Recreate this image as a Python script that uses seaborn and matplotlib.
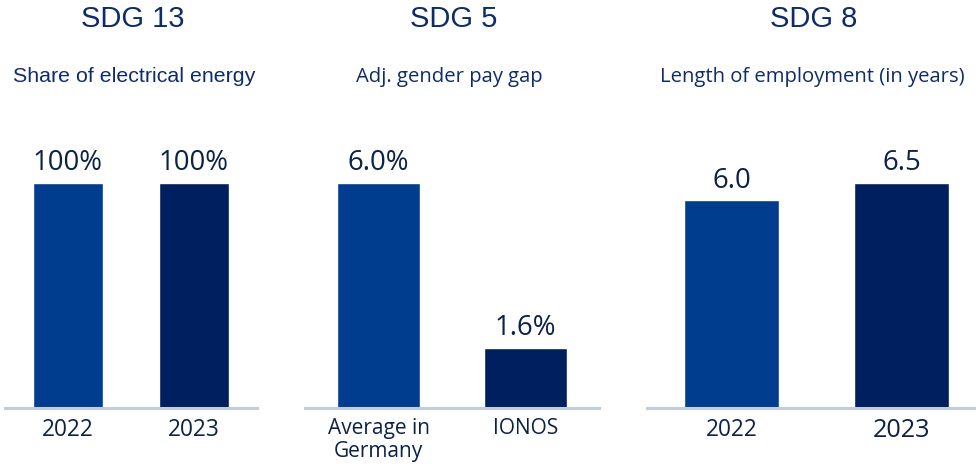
import matplotlib
matplotlib.use("Agg")
import matplotlib.pyplot as plt
import seaborn as sns
import pandas as pd

sns.set_theme(style="white")
plt.rcParams['font.family'] = ['Open Sans', 'DejaVu Sans']

# ---- data ----
titles = ["SDG 13", "SDG 5", "SDG 8"]
subtitles = ["Share of electrical energy", "Adj. gender pay gap", "Length of employment (in years)"]

cats1 = ["2022", "2023"]
vals1 = [100, 100]
labels1 = ["100%", "100%"]

cats2 = ["Average in\nGermany", "IONOS"]
vals2 = [6.0, 1.6]
labels2 = ["6.0%", "1.6%"]

cats3 = ["2022", "2023"]
vals3 = [6.0, 6.5]
labels3 = ["6.0", "6.5"]

# ---- style ----
W, H = 976, 467
C_LIGHT = "#003d8f"
C_DARK = "#001f5f"
TXT = "#0c2148"
TITLE_C = "#0f2c6a"
BASE_C = "#c3cdd9"

fig = plt.figure(figsize=(W / 100, H / 100), dpi=100)

def px_axes(left, bottom_y, width, height):
    return fig.add_axes([left / W, (H - bottom_y) / H, width / W, height / H])

panels = [
    dict(cats=cats1, vals=vals1, labels=labels1, left=5, step=126, ymax=100,
         tx=133, sx=134, sub_font="Liberation Sans", sub_size=15.4, tick_size=16.3),
    dict(cats=cats2, vals=vals2, labels=labels2, left=305, step=147, ymax=6.0,
         tx=454, sx=449, sub_font="Open Sans", sub_size=14.6, tick_size=15),
    dict(cats=cats3, vals=vals3, labels=labels3, left=646.5, step=170, ymax=6.5,
         tx=814, sx=812, sub_font="Open Sans", sub_size=14.6, tick_size=16.3),
]

for i, p in enumerate(panels):
    ax = px_axes(p["left"], 408, 2 * p["step"], 225)
    df = pd.DataFrame({"cat": p["cats"], "val": p["vals"]})
    sns.barplot(data=df, x="cat", y="val", hue="cat", order=p["cats"],
                hue_order=p["cats"], palette=[C_LIGHT, C_DARK], width=0.56,
                saturation=1, legend=False, ax=ax)
    ax.set_xlim(-0.5, 1.5)
    ax.set_ylim(0, p["ymax"])
    ax.set_xlabel("")
    ax.set_ylabel("")
    ax.set_yticks([])
    for s in ["top", "left", "right"]:
        ax.spines[s].set_visible(False)
    ax.spines["bottom"].set_color(BASE_C)
    ax.spines["bottom"].set_linewidth(2.2)
    ax.spines["bottom"].set_clip_on(False)
    ax.tick_params(axis="x", length=0, pad=7, labelsize=p["tick_size"], labelcolor=TXT)
    for lab in ax.get_xticklabels():
        lab.set_linespacing(1.12)
    if i == 2:
        ax.get_xticklabels()[1].set_fontsize(18.2)
    for cont, lab in zip(ax.containers, p["labels"]):
        ax.bar_label(cont, labels=[lab], padding=4, fontsize=19.8, color=TXT)
    fig.text(p["tx"] / W, 1 - 19 / H, titles[i], ha="center", va="center",
             fontsize=21, color=TITLE_C, family="Liberation Sans")
    fig.text(p["sx"] / W, 1 - 77 / H, subtitles[i], ha="center", va="center",
             fontsize=p["sub_size"], color=TITLE_C, family=p["sub_font"])

fig.savefig("out.png", dpi=100)
